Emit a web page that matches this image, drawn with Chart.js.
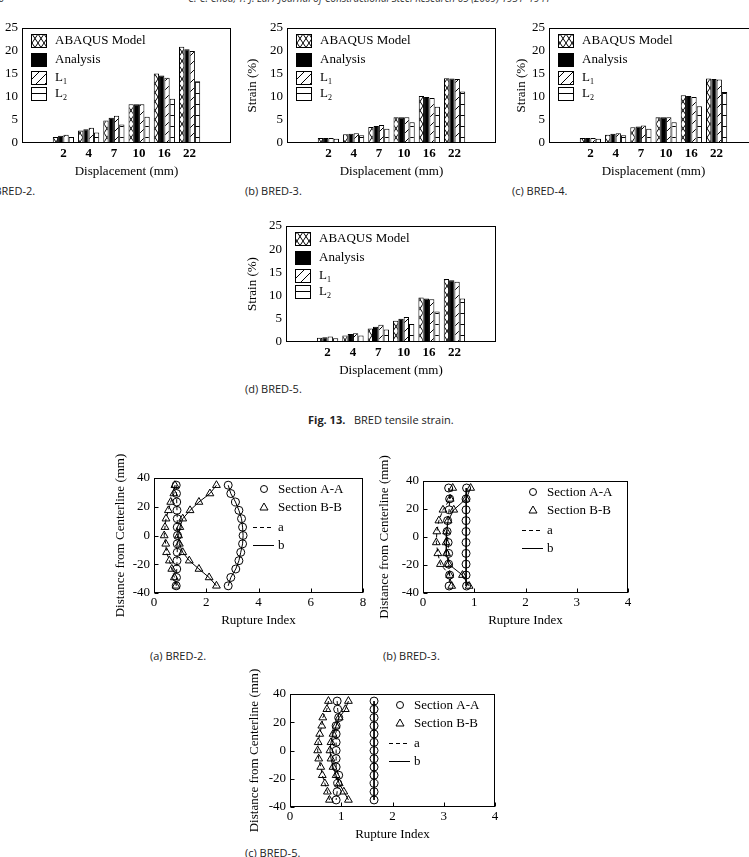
<!DOCTYPE html>
<html>
<head>
<meta charset="utf-8">
<script src="https://cdn.jsdelivr.net/npm/chart.js@4.4.0/dist/chart.umd.min.js"></script>
<style>
html, body { margin: 0; padding: 0; background: #fff; }
#page { position: relative; width: 749px; height: 857px; overflow: hidden; background: #fff; }
#page canvas { position: absolute; }
.cap { position: absolute; font-family: "Open Sans", sans-serif; font-size: 11px; color: #222; white-space: nowrap; line-height: 1; }
.hdr { position: absolute; font-family: "Open Sans", sans-serif; font-style: italic; font-size: 10px; color: #333; white-space: nowrap; line-height: 1; }
</style>
</head>
<body>
<div id="page">
  <div class="hdr" style="left:-18px;top:-7px;">1936</div>
  <div class="hdr" style="left:188px;top:-7px;">C.-C. Chou, T.-J. Lai / Journal of Constructional Steel Research 65 (2009) 1931–1941</div>
  <div class="cap" style="left:-21px;top:185px;">(a) BRED-2.</div>
  <div class="cap" style="left:245px;top:185px;">(b) BRED-3.</div>
  <div class="cap" style="left:512px;top:185px;">(c) BRED-4.</div>
  <div class="cap" style="left:245px;top:383px;">(d) BRED-5.</div>
  <div class="cap" style="left:308px;top:414px;"><b>Fig. 13.</b>&nbsp;&nbsp; BRED tensile strain.</div>
  <div class="cap" style="left:150px;top:650px;">(a) BRED-2.</div>
  <div class="cap" style="left:383px;top:650px;">(b) BRED-3.</div>
  <div class="cap" style="left:245px;top:847px;">(c) BRED-5.</div>
</div>
<script>
const SERIF = '"Liberation Serif", "Times New Roman", serif';

// bar charts: tensile strain
const barCats = ['2', '4', '7', '10', '16', '22'];
const barSeries = ['ABAQUS Model', 'Analysis', 'L1', 'L2'];
const strainTicks = [0, 5, 10, 15, 20, 25];

const bred2Abaqus = [1.3, 2.7, 4.9, 8.4, 15.1, 20.9];
const bred2Analysis = [1.6, 3.0, 5.5, 8.4, 14.7, 20.4];
const bred2L1 = [1.8, 3.3, 5.9, 8.4, 14.2, 20.0];
const bred2L2 = [1.3, 2.3, 4.0, 5.7, 9.6, 13.4];

const bred3Abaqus = [1.1, 1.9, 3.5, 5.6, 10.2, 14.1];
const bred3Analysis = [1.1, 2.0, 3.7, 5.6, 10.0, 14.0];
const bred3L1 = [1.1, 2.1, 3.9, 5.6, 9.8, 13.9];
const bred3L2 = [0.9, 1.7, 3.1, 4.5, 7.9, 11.2];

const bred4Abaqus = [1.1, 1.8, 3.4, 5.6, 10.4, 14.0];
const bred4Analysis = [1.1, 2.0, 3.6, 5.6, 10.2, 13.9];
const bred4L1 = [1.1, 2.1, 3.8, 5.6, 10.0, 13.8];
const bred4L2 = [0.9, 1.7, 3.1, 4.5, 8.0, 11.1];

const bred5Abaqus = [0.9, 1.4, 2.9, 4.6, 9.6, 13.6];
const bred5Analysis = [1.0, 1.7, 3.3, 5.0, 9.4, 13.3];
const bred5L1 = [1.2, 1.9, 3.7, 5.4, 9.2, 13.0];
const bred5L2 = [0.8, 1.4, 2.7, 3.9, 6.6, 9.4];

// rupture index charts
const ruptureLegend = ['Section A-A', 'Section B-B', 'a', 'b'];
const distTicks = [-40, -20, 0, 20, 40];

const dist13 = [35, 29.2, 23.3, 17.5, 11.7, 5.8, 0, -5.8, -11.7, -17.5, -23.3, -29.2, -35];
const dist10 = [35, 27.2, 19.4, 11.7, 3.9, -3.9, -11.7, -19.4, -27.2, -35];

const ri2SecAa = [0.85, 0.86, 0.87, 0.88, 0.89, 0.89, 0.9, 0.89, 0.89, 0.88, 0.87, 0.86, 0.85];
const ri2SecAb = [2.84, 2.94, 3.12, 3.25, 3.35, 3.39, 3.41, 3.39, 3.32, 3.25, 3.13, 2.94, 2.84];
const ri2SecBa = [0.80, 0.76, 0.64, 0.55, 0.46, 0.42, 0.39, 0.45, 0.48, 0.59, 0.68, 0.78, 0.84];
const ri2SecBb = [2.39, 2.14, 1.72, 1.38, 1.10, 0.99, 0.94, 0.97, 1.10, 1.35, 1.72, 2.11, 2.39];

const ri3SecAa = [0.50, 0.52, 0.51, 0.48, 0.47, 0.49, 0.50, 0.50, 0.52, 0.51];
const ri3SecAb = [0.85, 0.84, 0.84, 0.84, 0.84, 0.84, 0.84, 0.84, 0.84, 0.85];
const ri3SecBa = [0.58, 0.53, 0.39, 0.31, 0.27, 0.26, 0.29, 0.34, 0.52, 0.56];
const ri3SecBb = [0.93, 0.84, 0.60, 0.49, 0.46, 0.45, 0.46, 0.50, 0.77, 0.90];

const ri5SecAa = [0.92, 0.93, 0.95, 0.90, 0.90, 0.90, 0.90, 0.90, 0.90, 0.95, 0.93, 0.92, 0.90];
const ri5SecAb = [1.64, 1.64, 1.64, 1.64, 1.64, 1.64, 1.64, 1.64, 1.64, 1.64, 1.64, 1.64, 1.64];
const ri5SecBa = [0.75, 0.72, 0.64, 0.62, 0.58, 0.55, 0.54, 0.56, 0.60, 0.63, 0.68, 0.73, 0.77];
const ri5SecBb = [1.14, 1.08, 0.96, 0.90, 0.84, 0.80, 0.78, 0.80, 0.84, 0.90, 0.96, 1.05, 1.14];

// hatch fills
function makePattern(kind) {
  const c = document.createElement('canvas');
  const ctx = c.getContext('2d');
  if (kind === 'cross') { c.width = 6; c.height = 9; }
  else if (kind === 'diag') { c.width = 9; c.height = 9; }
  else { c.width = 8; c.height = 11; }
  ctx.fillStyle = '#fff';
  ctx.fillRect(0, 0, c.width, c.height);
  ctx.strokeStyle = '#000';
  ctx.lineWidth = 1;
  ctx.beginPath();
  if (kind === 'cross') {
    ctx.moveTo(0, 0); ctx.lineTo(6, 9);
    ctx.moveTo(6, 0); ctx.lineTo(0, 9);
  } else if (kind === 'diag') {
    ctx.moveTo(-1, 10); ctx.lineTo(10, -1);
  } else {
    ctx.moveTo(0, 0.5); ctx.lineTo(8, 0.5);
  }
  ctx.stroke();
  return ctx.createPattern(c, 'repeat');
}
const barFills = [makePattern('cross'), '#000', makePattern('diag'), makePattern('horiz')];

// put a canvas so that its chart area lands on box
function place(box, yTitleX, xH, padTop) {
  const pad = { left: 2, top: padTop, right: 12, bottom: 4 };
  const left = Math.round(yTitleX - 7.8 - pad.left);
  const top = box.T - pad.top;
  const c = document.createElement('canvas');
  c.width = box.R - left + pad.right;
  c.height = box.B - top + xH + pad.bottom;
  c.style.left = left + 'px';
  c.style.top = top + 'px';
  document.getElementById('page').appendChild(c);
  return { canvas: c, padding: pad, yW: box.L - left - pad.left };
}

function framePlugin(inwardTicks) {
  return {
    id: 'frame',
    afterDraw(chart) {
      const { ctx, chartArea: a, scales } = chart;
      ctx.save();
      ctx.strokeStyle = '#000';
      ctx.lineWidth = 1;
      const l = Math.round(a.left) + 0.5, t = Math.round(a.top) + 0.5;
      const r = Math.round(a.right) - 0.5, b = Math.round(a.bottom) - 0.5;
      ctx.strokeRect(l, t, r - l, b - t);
      if (inwardTicks) {
        ctx.beginPath();
        scales.y.ticks.forEach((tk) => {
          const y = Math.round(scales.y.getPixelForValue(tk.value)) + 0.5;
          ctx.moveTo(l, y); ctx.lineTo(l + 4, y);
        });
        scales.x.ticks.forEach((tk) => {
          const x = Math.round(scales.x.getPixelForValue(tk.value)) + 0.5;
          ctx.moveTo(x, b); ctx.lineTo(x, b - 4);
        });
        ctx.stroke();
      }
      ctx.restore();
    }
  };
}

const barKeyPlugin = {
  id: 'barKey',
  afterDraw(chart) {
    const { ctx, chartArea: a } = chart;
    const rows = [6, 25, 43, 59];
    ctx.save();
    ctx.font = '13px ' + SERIF;
    ctx.textBaseline = 'middle';
    barSeries.forEach((name, k) => {
      const x = Math.round(a.left) + 9, y = Math.round(a.top) + rows[k];
      ctx.fillStyle = barFills[k];
      ctx.fillRect(x, y, 15, 13);
      ctx.strokeStyle = '#000';
      ctx.lineWidth = 1;
      ctx.strokeRect(x + 0.5, y + 0.5, 15, 13);
      ctx.fillStyle = '#000';
      const tx = x + 24, ty = y + 7;
      if (name[0] === 'L' && name.length === 2) {
        ctx.fillText('L', tx, ty);
        const w = ctx.measureText('L').width;
        ctx.font = '8px ' + SERIF;
        ctx.fillText(name[1], tx + w, ty + 4);
        ctx.font = '13px ' + SERIF;
      } else {
        ctx.fillText(name, tx, ty);
      }
    });
    ctx.restore();
  }
};

const ruptureKeyPlugin = {
  id: 'ruptureKey',
  afterDraw(chart) {
    const { ctx, chartArea: a } = chart;
    const rows = [11, 29, 49, 67];
    const L = Math.round(a.left), T = Math.round(a.top);
    ctx.save();
    ctx.strokeStyle = '#000';
    ctx.fillStyle = '#000';
    ctx.lineWidth = 1;
    ctx.font = '13px ' + SERIF;
    ctx.textBaseline = 'middle';
    ruptureLegend.forEach((name, k) => {
      const y = T + rows[k];
      const mx = L + 110;
      ctx.beginPath();
      if (k === 0) {
        ctx.arc(mx, y, 3.5, 0, Math.PI * 2);
      } else if (k === 1) {
        ctx.moveTo(mx, y - 4); ctx.lineTo(mx + 4, y + 3); ctx.lineTo(mx - 4, y + 3); ctx.closePath();
      } else {
        if (k === 2) ctx.setLineDash([4, 3]);
        ctx.moveTo(L + 99, y + 0.5); ctx.lineTo(L + 120, y + 0.5);
      }
      ctx.stroke();
      ctx.setLineDash([]);
      ctx.fillText(name, L + 124, y + 1);
    });
    ctx.restore();
  }
};

function axisFont(weight) {
  return { family: SERIF, size: 13, weight: weight || 'normal' };
}

function barChart(box, yTitleX, seriesVals) {
  const g = place(box, yTitleX, 36, 12);
  return new Chart(g.canvas, {
    type: 'bar',
    data: {
      datasets: seriesVals.map((vals, k) => ({
        label: barSeries[k],
        data: vals.map((v, i) => ({ x: i, y: v })),
        backgroundColor: barFills[k],
        borderColor: '#000',
        borderWidth: 1,
        categoryPercentage: 0.84,
        barPercentage: 1
      }))
    },
    options: {
      responsive: false,
      animation: false,
      layout: { padding: g.padding },
      plugins: { legend: { display: false }, tooltip: { enabled: false } },
      scales: {
        x: {
          type: 'linear', min: -0.95, max: 5.95,
          grid: { display: false, drawTicks: false },
          border: { display: false },
          afterBuildTicks: (s) => { s.ticks = barCats.map((c, i) => ({ value: i })); },
          afterFit: (s) => { s.height = 36; },
          ticks: { padding: 3, color: '#000', autoSkip: false, maxRotation: 0, font: axisFont('bold'),
                   callback: (v) => barCats[v] },
          title: { display: true, text: 'Displacement (mm)', padding: 0, color: '#000', font: axisFont() }
        },
        y: {
          min: 0, max: 25,
          grid: { display: false, drawTicks: false },
          border: { display: false },
          afterBuildTicks: (s) => { s.ticks = strainTicks.map((v) => ({ value: v })); },
          afterFit: (s) => { s.width = g.yW; },
          ticks: { padding: 4, color: '#000', font: axisFont() },
          title: { display: true, text: 'Strain (%)', padding: 0, color: '#000', font: axisFont() }
        }
      }
    },
    plugins: [framePlugin(false), barKeyPlugin]
  });
}

function ruptureChart(box, yTitleX, xMax, xStep, dist, secAa, secAb, secBa, secBb) {
  const g = place(box, yTitleX, 35, 36);
  const pts = (xs) => xs.map((x, i) => ({ x: x, y: dist[i] }));
  const common = { borderColor: '#000', borderWidth: 1, pointBorderColor: '#000', pointBorderWidth: 1,
                   pointBackgroundColor: 'rgba(0,0,0,0)', backgroundColor: 'rgba(0,0,0,0)', showLine: true, tension: 0 };
  return new Chart(g.canvas, {
    type: 'scatter',
    data: {
      datasets: [
        Object.assign({ label: 'Section A-A a', data: pts(secAa), borderDash: [4, 3], pointStyle: 'circle', pointRadius: 4 }, common),
        Object.assign({ label: 'Section A-A b', data: pts(secAb), pointStyle: 'circle', pointRadius: 4 }, common),
        Object.assign({ label: 'Section B-B a', data: pts(secBa), borderDash: [4, 3], pointStyle: 'triangle', pointRadius: 4.5 }, common),
        Object.assign({ label: 'Section B-B b', data: pts(secBb), pointStyle: 'triangle', pointRadius: 4.5 }, common)
      ]
    },
    options: {
      responsive: false,
      animation: false,
      layout: { padding: g.padding },
      plugins: { legend: { display: false }, tooltip: { enabled: false } },
      scales: {
        x: {
          type: 'linear', min: 0, max: xMax,
          grid: { display: false, drawTicks: false },
          border: { display: false },
          afterFit: (s) => { s.height = 35; },
          ticks: { stepSize: xStep, padding: 2, color: '#000', maxRotation: 0, font: axisFont() },
          title: { display: true, text: 'Rupture Index', padding: 0, color: '#000', font: axisFont() }
        },
        y: {
          min: -40, max: 40,
          grid: { display: false, drawTicks: false },
          border: { display: false },
          afterBuildTicks: (s) => { s.ticks = distTicks.map((v) => ({ value: v })); },
          afterFit: (s) => { s.width = g.yW; },
          ticks: { padding: 4, color: '#000', font: axisFont() },
          title: { display: true, text: 'Distance from Centerline (mm)', padding: 0, color: '#000', font: axisFont() }
        }
      }
    },
    plugins: [framePlugin(true), ruptureKeyPlugin]
  });
}

barChart({ L: 22, T: 28, R: 231, B: 143 }, -12, [bred2Abaqus, bred2Analysis, bred2L1, bred2L2]);
barChart({ L: 287, T: 28, R: 496, B: 143 }, 253, [bred3Abaqus, bred3Analysis, bred3L1, bred3L2]);
barChart({ L: 549, T: 28, R: 758, B: 143 }, 522, [bred4Abaqus, bred4Analysis, bred4L1, bred4L2]);
barChart({ L: 286, T: 226, R: 496, B: 342 }, 253, [bred5Abaqus, bred5Analysis, bred5L1, bred5L2]);

ruptureChart({ L: 154, T: 478, R: 363, B: 593 }, 121, 8, 2, dist13, ri2SecAa, ri2SecAb, ri2SecBa, ri2SecBb);
ruptureChart({ L: 423, T: 481, R: 628, B: 593 }, 385, 4, 1, dist10, ri3SecAa, ri3SecAb, ri3SecBa, ri3SecBb);
ruptureChart({ L: 290, T: 694, R: 495, B: 807 }, 255, 4, 1, dist13, ri5SecAa, ri5SecAb, ri5SecBa, ri5SecBb);
</script>
</body>
</html>
